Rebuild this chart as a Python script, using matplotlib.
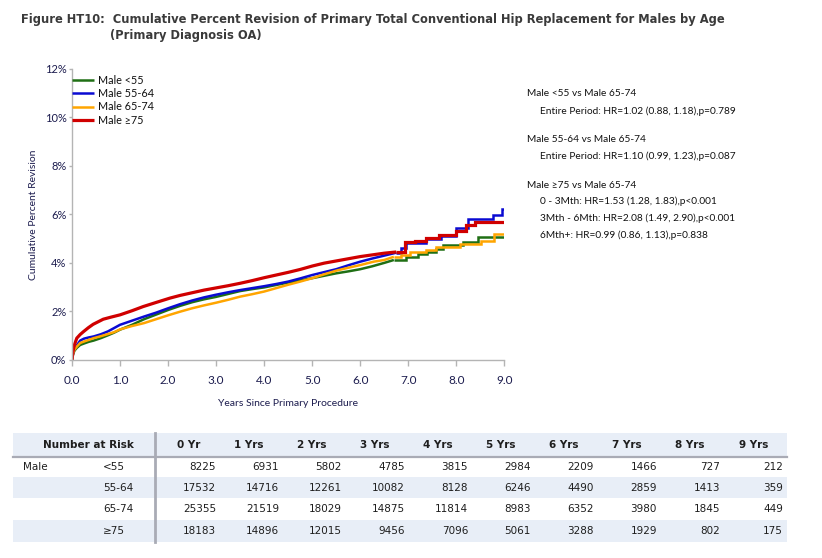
import matplotlib
matplotlib.use('Agg')
import matplotlib.pyplot as plt
from matplotlib.patches import Rectangle
from matplotlib import font_manager

# ---------------- data ----------------
series_labels = ['Male <55', 'Male 55-64', 'Male 65-74', 'Male \u226575']
series_colors = ['#1f6f14', '#0a0ad2', '#ffa500', '#d00000']

t_lt55 = [0, 0.02, 0.05, 0.1, 0.17, 0.25, 0.35, 0.45, 0.6, 0.75, 0.88, 1.0, 1.25, 1.5, 1.75, 2.0, 2.25, 2.5, 2.75, 3.0,
          3.25, 3.5, 3.75, 4.0, 4.25, 4.5, 4.75, 5.0, 5.25, 5.5, 5.75, 6.0, 6.25, 6.5, 6.7, 6.96, 7.2, 7.4, 7.58, 7.72,
          8.14, 8.45, 9.0]
v_lt55 = [0, 0.22, 0.38, 0.5, 0.62, 0.68, 0.75, 0.8, 0.9, 1.02, 1.13, 1.25, 1.45, 1.68, 1.87, 2.06, 2.23, 2.38, 2.5, 2.6,
          2.72, 2.84, 2.92, 2.99, 3.09, 3.19, 3.28, 3.37, 3.47, 3.57, 3.65, 3.74, 3.86, 4.0, 4.12, 4.25, 4.36, 4.45, 4.58, 4.72,
          4.85, 5.07, 5.07]

t_55_64 = [0, 0.02, 0.05, 0.1, 0.17, 0.25, 0.35, 0.45, 0.6, 0.75, 0.88, 1.0, 1.25, 1.5, 1.75, 2.0, 2.25, 2.5, 2.75, 3.0,
           3.25, 3.5, 3.75, 4.0, 4.25, 4.5, 4.75, 5.0, 5.25, 5.5, 5.75, 6.0, 6.25, 6.5, 6.75, 6.85, 6.96, 7.37, 7.68, 8.0,
           8.24, 8.76, 8.96, 9.0]
v_55_64 = [0, 0.25, 0.45, 0.6, 0.8, 0.88, 0.93, 0.97, 1.06, 1.18, 1.32, 1.45, 1.62, 1.79, 1.95, 2.13, 2.3, 2.45, 2.58, 2.69,
           2.79, 2.88, 2.96, 3.04, 3.13, 3.23, 3.36, 3.5, 3.62, 3.74, 3.9, 4.05, 4.18, 4.3, 4.42, 4.6, 4.82, 5.0, 5.1, 5.42,
           5.82, 5.96, 6.23, 6.23]

t_65_74 = [0, 0.02, 0.05, 0.1, 0.17, 0.25, 0.35, 0.45, 0.6, 0.75, 0.88, 1.0, 1.25, 1.5, 1.75, 2.0, 2.25, 2.5, 2.75, 3.0,
           3.25, 3.5, 3.75, 4.0, 4.25, 4.5, 4.75, 5.0, 5.25, 5.5, 5.75, 6.0, 6.28, 6.5, 6.7, 6.85, 7.03, 7.37, 7.58, 8.07,
           8.52, 8.79, 9.0]
v_65_74 = [0, 0.25, 0.42, 0.55, 0.7, 0.76, 0.83, 0.9, 0.98, 1.07, 1.15, 1.26, 1.4, 1.52, 1.68, 1.84, 1.99, 2.13, 2.25, 2.36,
           2.48, 2.61, 2.71, 2.82, 2.96, 3.1, 3.23, 3.37, 3.53, 3.68, 3.8, 3.91, 4.05, 4.12, 4.25, 4.33, 4.45, 4.55, 4.66, 4.76,
           4.89, 5.17, 5.17]

t_ge75 = [0, 0.02, 0.05, 0.1, 0.17, 0.24, 0.34, 0.44, 0.54, 0.65, 0.8, 1.0, 1.25, 1.48, 1.75, 2.04, 2.25, 2.5, 2.75, 3.0,
          3.25, 3.5, 3.75, 4.0, 4.25, 4.5, 4.75, 5.0, 5.25, 5.5, 5.75, 6.0, 6.25, 6.5, 6.75, 6.93, 7.14, 7.37, 7.65, 8.0,
          8.2, 8.38, 9.0]
v_ge75 = [0, 0.35, 0.62, 0.9, 1.05, 1.17, 1.33, 1.47, 1.57, 1.68, 1.76, 1.86, 2.03, 2.2, 2.37, 2.55, 2.66, 2.77, 2.88, 2.97,
          3.06, 3.16, 3.27, 3.39, 3.5, 3.61, 3.73, 3.87, 3.99, 4.08, 4.17, 4.26, 4.33, 4.40, 4.45, 4.85, 4.89, 5.03, 5.13, 5.31,
          5.56, 5.70, 5.70]

# time from which the curves are drawn as visible steps
step_from = 6.7

x_ticks = [0, 1, 2, 3, 4, 5, 6, 7, 8, 9]
y_ticks = [0, 2, 4, 6, 8, 10, 12]

hr_lines = [
    ('Male <55 vs Male 65-74', 0),
    ('Entire Period: HR=1.02 (0.88, 1.18),p=0.789', 1),
    ('Male 55-64 vs Male 65-74', 0),
    ('Entire Period: HR=1.10 (0.99, 1.23),p=0.087', 1),
    ('Male \u226575 vs Male 65-74', 0),
    ('0 - 3Mth: HR=1.53 (1.28, 1.83),p<0.001', 1),
    ('3Mth - 6Mth: HR=2.08 (1.49, 2.90),p<0.001', 1),
    ('6Mth+: HR=0.99 (0.86, 1.13),p=0.838', 1),
]

table_cols = ['0 Yr', '1 Yrs', '2 Yrs', '3 Yrs', '4 Yrs', '5 Yrs', '6 Yrs', '7 Yrs', '8 Yrs', '9 Yrs']
table_groups = ['<55', '55-64', '65-74', '\u226575']
risk_lt55 = [8225, 6931, 5802, 4785, 3815, 2984, 2209, 1466, 727, 212]
risk_55_64 = [17532, 14716, 12261, 10082, 8128, 6246, 4490, 2859, 1413, 359]
risk_65_74 = [25355, 21519, 18029, 14875, 11814, 8983, 6352, 3980, 1845, 449]
risk_ge75 = [18183, 14896, 12015, 9456, 7096, 5061, 3288, 1929, 802, 175]

# ---------------- figure ----------------
W, H = 822, 558
fig = plt.figure(figsize=(W / 100, H / 100), dpi=100)
fig.patch.set_facecolor('white')

def fx(px):
    return px / W

def fy(py):
    return 1 - py / H

navy = '#1c1c4e'
pfont = 'Lato'

installed = {f.name for f in font_manager.fontManager.ttflist}
title_font = 'Liberation Sans Narrow' if 'Liberation Sans Narrow' in installed else 'DejaVu Sans'
title_size = 11.1 if title_font == 'Liberation Sans Narrow' else 8.3

ax = fig.add_axes([fx(72), fy(360), fx(504.3) - fx(72), fy(68.7) - fy(360)])
series = [(t_lt55, v_lt55), (t_55_64, v_55_64), (t_65_74, v_65_74), (t_ge75, v_ge75)]
widths = [1.8, 1.8, 1.8, 2.3]
for (t, v), lab, c, lw in zip(series, series_labels, series_colors, widths):
    k = next(i for i, tt in enumerate(t) if tt >= step_from)
    ax.plot(t[:k + 1], v[:k + 1], color=c, lw=lw, label=lab, solid_joinstyle='round', solid_capstyle='butt')
    ax.plot(t[k:], v[k:], drawstyle='steps-post', color=c, lw=lw, solid_joinstyle='miter', solid_capstyle='butt')

ax.set_xlim(0, 9)
ax.set_ylim(0, 12)
ax.set_xticks(x_ticks)
ax.set_xticklabels(['%.1f' % x for x in x_ticks], fontsize=8.5, color=navy, family=pfont)
ax.set_yticks(y_ticks)
ax.set_yticklabels(['%d%%' % y for y in y_ticks], fontsize=8, color=navy, family=pfont)
for s in ['top', 'right']:
    ax.spines[s].set_visible(False)
for s in ['left', 'bottom']:
    ax.spines[s].set_color('#b4b4b4')
    ax.spines[s].set_linewidth(1.0)
ax.tick_params(axis='x', length=4, width=1, color='#b4b4b4', pad=7)
ax.tick_params(axis='y', length=2, width=1, color='#b4b4b4', pad=2)
ax.patch.set_alpha(0)

fig.text(fx(288), fy(403), 'Years Since Primary Procedure', ha='center', va='center',
         fontsize=7.5, color=navy, family=pfont)
fig.text(fx(33), fy(215), 'Cumulative Percent Revision', ha='center', va='center', rotation=90,
         fontsize=7.5, color=navy, family=pfont)

leg = ax.legend(loc='upper left', bbox_to_anchor=(fx(72), fy(75)), bbox_transform=fig.transFigure,
                frameon=False, handlelength=2.0, handletextpad=0.4,
                labelspacing=0.2, borderpad=0, borderaxespad=0, prop={'family': pfont, 'size': 7.8})
for txt in leg.get_texts():
    txt.set_color('#111111')

# HR text
hr_y = [94, 111, 140, 156, 185, 201.5, 218.5, 235]
for (txt, indent), yy in zip(hr_lines, hr_y):
    fig.text(fx(527 + 13 * indent), fy(yy), txt, ha='left', va='center', fontsize=7.3, color='#111111',
             family=[pfont, 'DejaVu Sans'])

# Title
tcol = '#3a3a3a'
fig.text(fx(21), fy(19), 'Figure HT10:  Cumulative Percent Revision of Primary Total Conventional Hip Replacement for Males by Age',
         ha='left', va='center', fontsize=title_size, fontweight='bold', color=tcol, family=title_font)
fig.text(fx(110), fy(35.5), '(Primary Diagnosis OA)', ha='left', va='center', fontsize=title_size,
         fontweight='bold', color=tcol, family=title_font)

# ---------------- number at risk table ----------------
ov = fig.add_axes([0, 0, 1, 1])
ov.set_xlim(0, W)
ov.set_ylim(H, 0)
ov.axis('off')
ov.patch.set_alpha(0)

shade = '#e8eef7'
rule = '#a9abb5'
tl, tr = 13, 787
ov.add_patch(Rectangle((tl, 433), tr - tl, 23, color=shade, lw=0))
ov.add_patch(Rectangle((tl, 477), tr - tl, 21, color=shade, lw=0))
ov.add_patch(Rectangle((tl, 520), tr - tl, 22, color=shade, lw=0))
ov.plot([tl, tr], [456.5, 456.5], color=rule, lw=1.6)
ov.plot([155, 155], [433, 542], color=rule, lw=2)

tfont = 'DejaVu Sans'
tc = '#1e1e1e'
ov.text(88.7, 445, 'Number at Risk', ha='center', va='center', fontsize=7.5, fontweight='bold',
        color=tc, family=tfont)
for i, lab in enumerate(table_cols):
    ov.text(200 + 63.1 * i, 445, lab, ha='right', va='center', fontsize=7.5, fontweight='bold',
            color=tc, family=tfont)

row_y = [467.5, 488, 509.5, 531]
rows = [risk_lt55, risk_55_64, risk_65_74, risk_ge75]
ov.text(23, row_y[0], 'Male', ha='left', va='center', fontsize=7.5, color=tc, family=tfont)
for ry, grp, vals in zip(row_y, table_groups, rows):
    ov.text(103, ry, grp, ha='left', va='center', fontsize=7.5, color=tc, family=tfont)
    for i, val in enumerate(vals):
        ov.text(216 + 63 * i, ry, str(val), ha='right', va='center', fontsize=7.5, color=tc, family=tfont)

fig.savefig('out.png', dpi=100, facecolor='white')
